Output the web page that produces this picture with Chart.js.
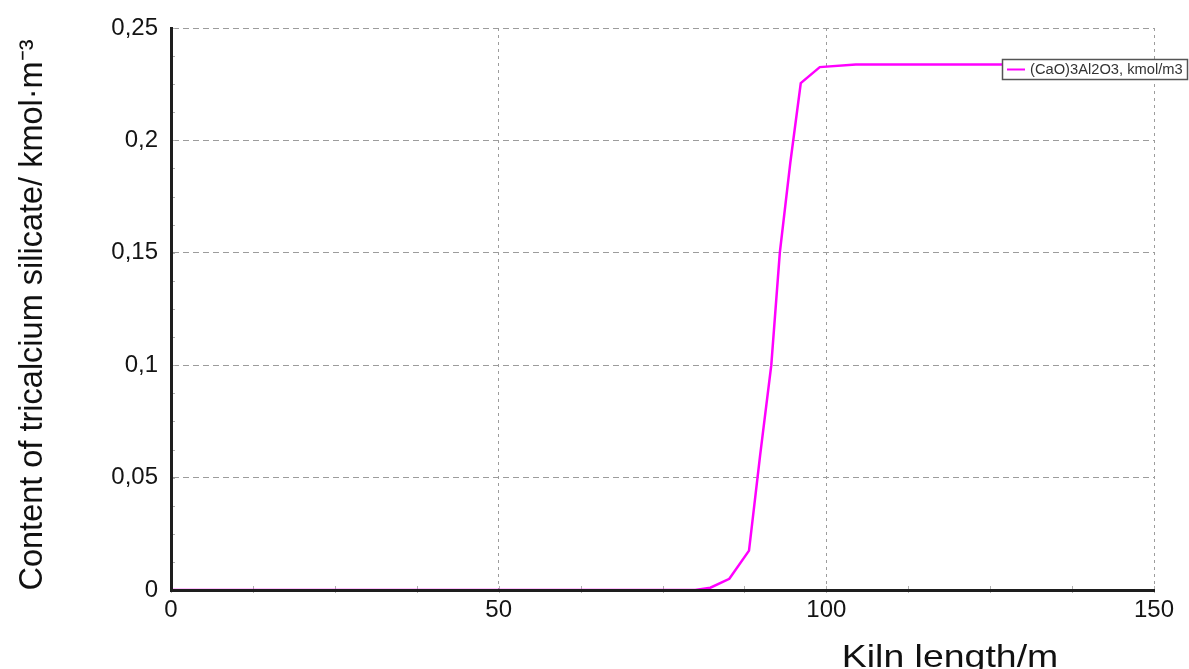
<!DOCTYPE html>
<html>
<head>
<meta charset="utf-8">
<script src="https://cdn.jsdelivr.net/npm/chart.js@4/dist/chart.umd.min.js"></script>
<style>
  html, body { margin: 0; padding: 0; background: #ffffff; }
  #wrap { width: 1189px; height: 669px; }
</style>
</head>
<body>
<div id="wrap"><canvas id="c" width="1189" height="669"></canvas></div>
<script>
// Kiln position (m) and C3A content (kmol/m3) along the kiln
const kilnLength = [0, 80, 82.3, 85.2, 88.2, 89.9, 91.6, 92.9, 94.5, 96.1, 99, 104.5, 150];
const c3aContent = [0, 0, 0.001, 0.005, 0.0175, 0.06, 0.1, 0.15, 0.19, 0.2255, 0.2326, 0.2338, 0.2338];
const seriesLabel = '(CaO)3Al2O3, kmol/m3';

const xTicks = [0, 50, 100, 150];
const yTicks = [0, 0.05, 0.1, 0.15, 0.2, 0.25];
const xMinorStep = 12.5;
const yMinorStep = 0.0125;

const xTitle = 'Kiln length/m';
const yTitle = 'Content of tricalcium silicate/ kmol\u00B7m\u207B\u00B3';

const FONT = "'Liberation Sans', Arial, sans-serif";

const points = kilnLength.map((x, i) => ({ x: x, y: c3aContent[i] }));

// small inner tick marks along both axes
const minorTicks = {
  id: 'minorTicks',
  beforeDatasetsDraw(chart) {
    const { ctx, chartArea: a, scales: { x, y } } = chart;
    ctx.save();
    ctx.strokeStyle = '#b0b0b0';
    ctx.lineWidth = 1;
    ctx.beginPath();
    for (let v = x.min; v <= x.max + 1e-9; v += xMinorStep) {
      const px = Math.round(x.getPixelForValue(v)) + 0.5;
      ctx.moveTo(px, a.bottom - 4);
      ctx.lineTo(px, a.bottom + 3);
    }
    for (let v = y.min; v <= y.max + 1e-9; v += yMinorStep) {
      const py = Math.round(y.getPixelForValue(v)) + 0.5;
      ctx.moveTo(a.left, py);
      ctx.lineTo(a.left + 4, py);
    }
    ctx.stroke();
    ctx.restore();
  }
};

// axis titles and the boxed legend
const decorations = {
  id: 'decorations',
  afterDraw(chart) {
    const { ctx } = chart;
    ctx.save();
    ctx.fillStyle = '#111111';
    ctx.textBaseline = 'alphabetic';
    ctx.textAlign = 'center';

    ctx.save();
    ctx.translate(950, 667);
    ctx.scale(1.17, 1);
    ctx.font = '32px ' + FONT;
    ctx.fillText(xTitle, 0, 0);
    ctx.restore();

    ctx.save();
    ctx.translate(42, 315);
    ctx.rotate(-Math.PI / 2);
    ctx.font = '32.5px ' + FONT;
    ctx.fillText(yTitle, 0, 0);
    ctx.restore();

    // legend box
    const ds = chart.data.datasets[0];
    const bx = 1002, by = 59, bw = 185, bh = 20;
    ctx.fillStyle = '#ffffff';
    ctx.fillRect(bx, by, bw, bh);
    ctx.strokeStyle = '#555555';
    ctx.lineWidth = 1.5;
    ctx.strokeRect(bx + 0.5, by + 0.5, bw, bh);
    ctx.strokeStyle = ds.borderColor;
    ctx.lineWidth = 2;
    ctx.beginPath();
    ctx.moveTo(bx + 5, by + 10.5);
    ctx.lineTo(bx + 23, by + 10.5);
    ctx.stroke();
    ctx.fillStyle = '#333333';
    ctx.font = '14.7px ' + FONT;
    ctx.textAlign = 'left';
    ctx.textBaseline = 'middle';
    ctx.fillText(ds.label, bx + 28, by + 11);
    ctx.restore();
  }
};

const fmt = v => {
  const r = Math.round(v * 1000) / 1000;
  return String(r).replace('.', ',');
};

new Chart(document.getElementById('c'), {
  type: 'line',
  data: {
    datasets: [{
      label: seriesLabel,
      data: points,
      borderColor: '#ff00ff',
      borderWidth: 2.5,
      pointRadius: 0,
      tension: 0,
      fill: false
    }]
  },
  options: {
    responsive: false,
    animation: false,
    layout: { padding: { top: 28, right: 35, bottom: 0, left: 0 } },
    plugins: {
      legend: { display: false },
      tooltip: { enabled: false },
      title: { display: false }
    },
    scales: {
      x: {
        type: 'linear',
        min: 0,
        max: 150,
        afterBuildTicks: s => { s.ticks = xTicks.map(v => ({ value: v })); },
        afterFit: s => { s.height = 79; },
        grid: { color: '#9c9c9c', lineWidth: 1, drawTicks: false },
        border: { display: true, color: '#1e1e1e', width: 3, dash: [3, 4], z: 1 },
        ticks: {
          padding: 6,
          color: '#141414',
          font: { family: FONT, size: 24 },
          maxRotation: 0,
          callback: v => fmt(v)
        }
      },
      y: {
        type: 'linear',
        min: 0,
        max: 0.25,
        afterBuildTicks: s => { s.ticks = yTicks.map(v => ({ value: v })); },
        afterFit: s => { s.width = 171; },
        grid: { color: '#9c9c9c', lineWidth: 1, drawTicks: false },
        border: { display: true, color: '#1e1e1e', width: 3, dash: [6, 4], z: 1 },
        ticks: {
          padding: 13,
          color: '#141414',
          font: { family: FONT, size: 24 },
          callback: v => fmt(v)
        }
      }
    }
  },
  plugins: [minorTicks, decorations]
});
</script>
</body>
</html>
